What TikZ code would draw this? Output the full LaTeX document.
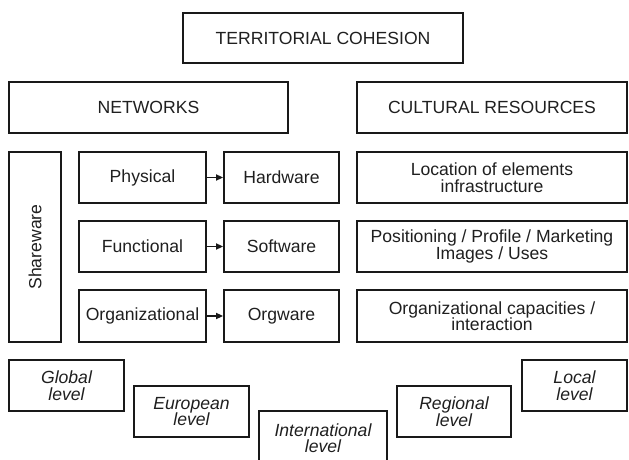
\documentclass[tikz,border=0pt]{standalone}
\usepackage{fontspec}
\setmainfont{Liberation Sans}
\usetikzlibrary{arrows.meta}
\begin{document}
\begin{tikzpicture}[x=1pt,y=-1pt,
  box/.style={draw=black!90, line width=1.8pt, rectangle, inner sep=0pt, align=center,
    font=\fontsize{17.6}{16.5}\selectfont, text=black!88},
  lvl/.style={box, font=\fontsize{17.6}{16.5}\selectfont\itshape},
  arr/.style={line width=1.6pt, draw=black!90, -{Triangle[length=7pt,width=6pt]}}]
\useasboundingbox (0,0) rectangle (629,460);
\node[box, minimum width=280, minimum height=50] (top) at (323,38) {TERRITORIAL COHESION};
\node[box, minimum width=279, minimum height=51] (net) at (148.5,107.5) {NETWORKS};
\node[box, minimum width=270, minimum height=51] (cult) at (492,107.5) {CULTURAL RESOURCES};
\node[box, minimum width=52, minimum height=190] (share) at (35,247) {};
\node[rotate=90, font=\fontsize{17.6}{16.5}\selectfont, text=black!88] (sharet) at (share.center) {Shareware};
\node[box, minimum width=127, minimum height=51] (phys) at (142.5,177.5) {Physical};
\node[box, minimum width=115, minimum height=51] (hard) at (281.5,177.5) {Hardware};
\node[box, minimum width=270, minimum height=51] (loc) at (492,177.5) {Location of elements\\infrastructure};
\node[box, minimum width=127, minimum height=51] (func) at (142.5,246.5) {Functional};
\node[box, minimum width=115, minimum height=51] (soft) at (281.5,246.5) {Software};
\node[box, minimum width=270, minimum height=51] (pos) at (492,246.5) {Positioning / Profile / Marketing\\Images / Uses};
\node[box, minimum width=127, minimum height=52] (org) at (142.5,316) {Organizational};
\node[box, minimum width=115, minimum height=52] (orgw) at (281.5,316) {Orgware};
\node[box, minimum width=270, minimum height=52] (cap) at (492,316) {Organizational capacities /\\interaction};
\draw[arr] (phys.east) -- (hard.west);
\draw[arr] (func.east) -- (soft.west);
\draw[arr] (org.east) -- (orgw.west);
\node[lvl, minimum width=115, minimum height=51] (glob) at (66.5,385.5) {Global\\level};
\node[lvl, minimum width=115, minimum height=51] (euro) at (191.5,411.5) {European\\level};
\node[lvl, minimum width=128, minimum height=54] (inter) at (323,438) {International\\level};
\node[lvl, minimum width=114, minimum height=51] (reg) at (454,411.5) {Regional\\level};
\node[lvl, minimum width=105, minimum height=51] (loca) at (574.5,385.5) {Local\\level};
\end{tikzpicture}
\end{document}
